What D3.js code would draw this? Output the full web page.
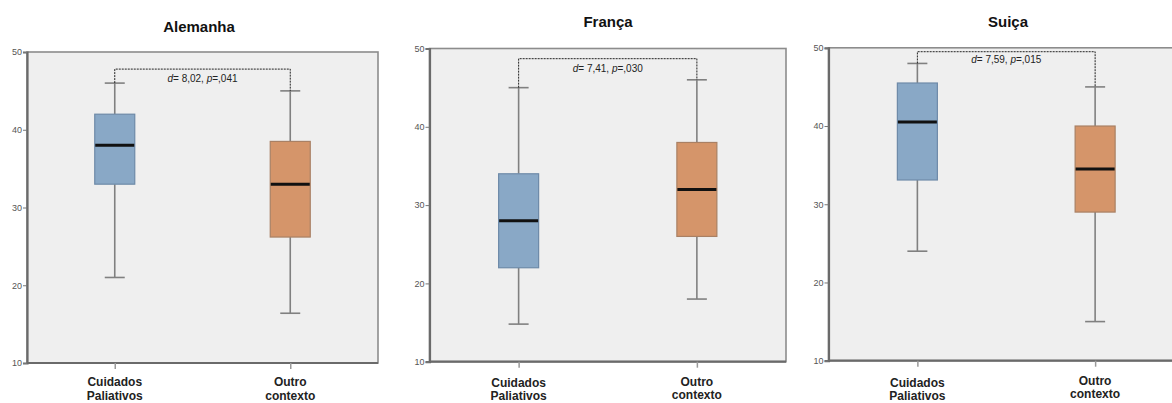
<!DOCTYPE html>
<html><head><meta charset="utf-8">
<script src="https://cdn.jsdelivr.net/npm/d3@7"></script>
<style>html,body{margin:0;padding:0;background:#fff;}svg{display:block;}</style>
</head><body>
<script>
// ---- data ----
const countries = ["Alemanha", "França", "Suiça"];
const categories = ["Cuidados\nPaliativos", "Outro\ncontexto"];
// [whiskerLow, Q1, median, Q3, whiskerHigh] per category
const alemanha = [[21, 33, 38, 42, 46], [16.4, 26.2, 33, 38.5, 45]];
const franca   = [[14.8, 22, 28, 34, 45], [18, 26, 32, 38, 46]];
const suica    = [[24, 33.1, 40.5, 45.5, 48], [15, 29, 34.5, 40, 45]];
const annotations = ["d= 8,02, p=,041", "d= 7,41, p=,030", "d= 7,59, p=,015"];
const bracketLevels = [47.8, 48.7, 49.5];
const yTicks = [10, 20, 30, 40, 50];
const yDomain = [10, 50];
const seriesData = [alemanha, franca, suica];

// ---- layout ----
const W = 1172, H = 403;
const panels = [
  {left: 27, right: 378, top: 52, bottom: 363, titleX: 199, titleY: 32, labY: [386, 386], gap: 14, annDy: 13},
  {left: 429.5, right: 786, top: 48.5, bottom: 361.7, titleX: 608, titleY: 27, labY: [387, 386], gap: 13, annDy: 13},
  {left: 828.5, right: 1184, top: 47.8, bottom: 360.7, titleX: 1008, titleY: 27, labY: [387, 385], gap: 13, annDy: 11}
];
const fills = ["#89a8c6", "#d5956a"];
const strokes = ["#6e8aa8", "#a98064"];

const svg = d3.select("body").append("svg").attr("width", W).attr("height", H)
  .style("font-family", "'Liberation Sans', Arial, sans-serif");

panels.forEach((p, i) => {
  const g = svg.append("g");
  const y = d3.scaleLinear().domain(yDomain).range([p.bottom, p.top]);
  const x = d3.scalePoint().domain(categories).range([p.left, p.right]).padding(0.5);

  // background frame
  g.append("rect").attr("x", p.left).attr("y", p.top)
    .attr("width", p.right - p.left).attr("height", p.bottom - p.top)
    .attr("fill", "#efefef").attr("stroke", "#8c8c8c").attr("stroke-width", 1.6);

  // title
  g.append("text").attr("x", p.titleX).attr("y", p.titleY).attr("text-anchor", "middle")
    .attr("font-size", 15).attr("font-weight", "bold").attr("fill", "#111").text(countries[i]);

  // y axis
  const ya = g.append("g").attr("transform", `translate(${p.left},0)`)
    .call(d3.axisLeft(y).tickValues(yTicks).tickSize(4).tickPadding(1).tickFormat(d3.format("d")));
  ya.select(".domain").attr("stroke", "#6a6a6a").attr("stroke-width", 2.2);
  ya.selectAll(".tick line").attr("stroke", "#777").attr("stroke-width", 1);
  ya.selectAll(".tick text").attr("font-size", 9).attr("fill", "#555")
    .attr("font-family", "'Liberation Sans', Arial, sans-serif");

  // x axis
  const xa = g.append("g").attr("transform", `translate(0,${p.bottom})`)
    .call(d3.axisBottom(x).tickSize(6).tickFormat(""));
  xa.select(".domain").attr("stroke", "#6a6a6a").attr("stroke-width", 2.2)
    .attr("d", `M${p.left},0H${p.right}`);
  xa.selectAll(".tick line").attr("stroke", "#999").attr("stroke-width", 1.5);

  // category labels
  categories.forEach((c, k) => {
    const t = g.append("text").attr("text-anchor", "middle").attr("font-size", 12)
      .attr("font-weight", "bold").attr("fill", "#222");
    c.split("\n").forEach((line, j) => {
      t.append("tspan").attr("x", x(c)).attr("y", p.labY[k] + j * p.gap).text(line);
    });
  });

  const boxW = 40, capW = 20;
  seriesData[i].forEach((s, k) => {
    const cx = x(categories[k]);
    const [lo, q1, med, q3, hi] = s;
    // whiskers
    g.append("line").attr("x1", cx).attr("x2", cx).attr("y1", y(hi)).attr("y2", y(q3))
      .attr("stroke", "#808080").attr("stroke-width", 1.6);
    g.append("line").attr("x1", cx).attr("x2", cx).attr("y1", y(q1)).attr("y2", y(lo))
      .attr("stroke", "#808080").attr("stroke-width", 1.6);
    [hi, lo].forEach(v => {
      g.append("line").attr("x1", cx - capW / 2).attr("x2", cx + capW / 2)
        .attr("y1", y(v)).attr("y2", y(v)).attr("stroke", "#808080").attr("stroke-width", 1.6);
    });
    // box
    g.append("rect").attr("x", cx - boxW / 2).attr("y", y(q3))
      .attr("width", boxW).attr("height", y(q1) - y(q3))
      .attr("fill", fills[k]).attr("stroke", strokes[k]).attr("stroke-width", 1.2);
    // median
    g.append("line").attr("x1", cx - boxW / 2 + 0.5).attr("x2", cx + boxW / 2 - 0.5)
      .attr("y1", y(med)).attr("y2", y(med)).attr("stroke", "#111").attr("stroke-width", 3);
  });

  // bracket
  const x0 = x(categories[0]), x1 = x(categories[1]);
  const by = y(bracketLevels[i]);
  g.append("path")
    .attr("d", `M${x0},${y(seriesData[i][0][4])}V${by}H${x1}V${y(seriesData[i][1][4])}`)
    .attr("fill", "none").attr("stroke", "#222").attr("stroke-width", 1)
    .attr("stroke-dasharray", "2,1");

  // annotation
  const parts = annotations[i].match(/^(d)(= [^,]+,[^,]+, )(p)(=.*)$/);
  const at = g.append("text").attr("x", (x0 + x1) / 2).attr("y", by + p.annDy)
    .attr("text-anchor", "middle").attr("font-size", 10).attr("fill", "#222");
  at.append("tspan").attr("font-style", "italic").text(parts[1]);
  at.append("tspan").text(parts[2]);
  at.append("tspan").attr("font-style", "italic").text(parts[3]);
  at.append("tspan").text(parts[4]);
});
</script>
</body></html>
